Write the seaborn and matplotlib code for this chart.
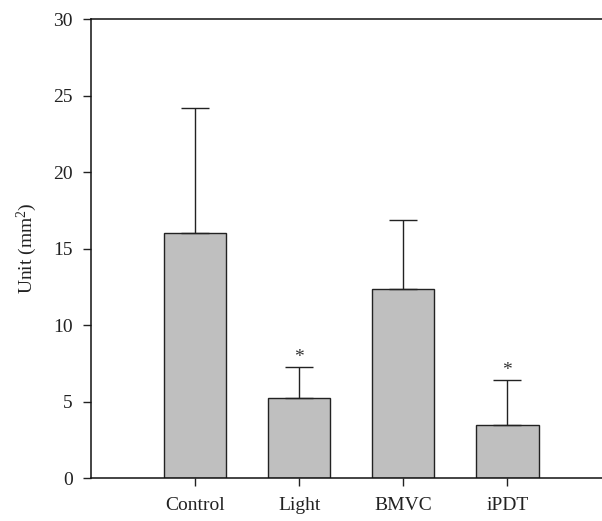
import matplotlib
matplotlib.use("Agg")
import matplotlib.pyplot as plt
import seaborn as sns
import pandas as pd

categories = ["Control", "Light", "BMVC", "iPDT"]
means = [16.0, 5.2, 12.35, 3.45]
errors = [8.2, 2.05, 4.5, 2.95]
significant = [False, True, False, True]
y_ticks = [0, 5, 10, 15, 20, 25, 30]

sns.set_theme(style="ticks")
plt.rcParams["font.family"] = ["Liberation Serif", "DejaVu Serif"]
plt.rcParams["mathtext.fontset"] = "custom"
plt.rcParams["mathtext.rm"] = "Liberation Serif"
plt.rcParams["mathtext.it"] = "Liberation Serif:italic"

df = pd.DataFrame({"group": categories, "value": means})

fig = plt.figure(figsize=(6.02, 5.21), dpi=100)
ax = fig.add_axes([0.151, 0.0825, 0.849, 0.881])

sns.barplot(data=df, x="group", y="value", order=categories, color="#bfbfbf",
            saturation=1, edgecolor="#222222", linewidth=1.0, width=0.6,
            errorbar=None, ax=ax)

xs = list(range(len(categories)))
ax.errorbar(xs, means, yerr=[[0] * len(errors), errors], fmt="none",
            ecolor="#222222", elinewidth=1.0, capsize=10, capthick=1.0, zorder=1)

for x, m, e, s in zip(xs, means, errors, significant):
    if s:
        ax.text(x, m + e + 0.1, "*", ha="center", va="bottom", fontsize=14, color="#333333")

ax.set_xlim(-1, 3.91)
ax.set_ylim(0, 30)
ax.set_yticks(y_ticks)
ax.set_xlabel("")
ax.set_ylabel("Unit (mm$^2$)", fontsize=14, color="#222222", labelpad=10)
ax.tick_params(axis="both", labelsize=14, colors="#222222", direction="out", length=6, width=1.0)
ax.tick_params(axis="x", pad=8)
ax.tick_params(axis="y", pad=7)

for side in ["left", "bottom", "top"]:
    ax.spines[side].set_visible(True)
    ax.spines[side].set_color("#111111")
    ax.spines[side].set_linewidth(1.1)
ax.spines["right"].set_visible(False)

fig.savefig("out.png", dpi=100)
